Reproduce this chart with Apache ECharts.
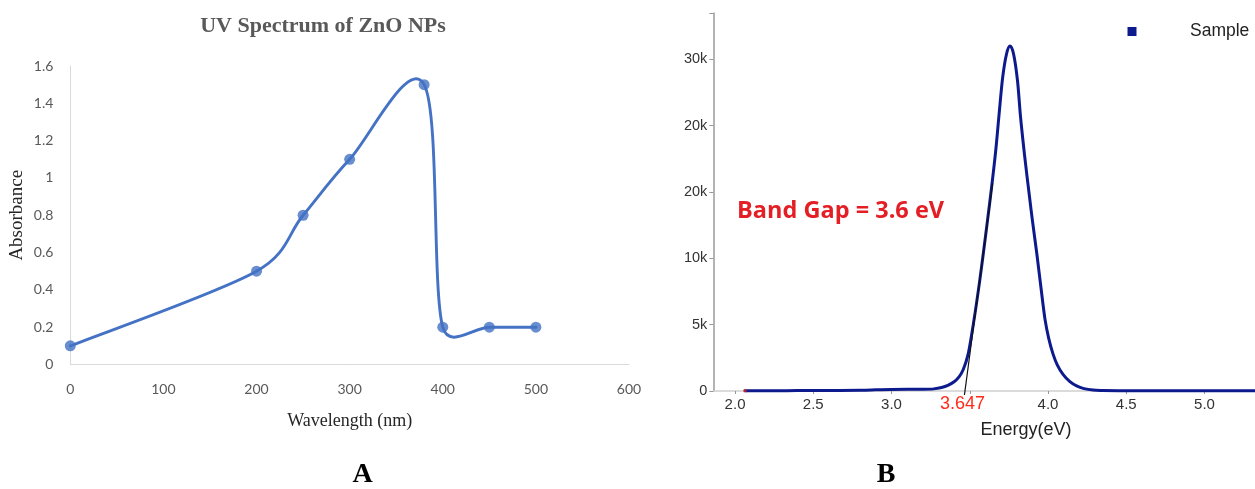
<!DOCTYPE html>
<html><head><meta charset="utf-8">
<script src="https://cdn.jsdelivr.net/npm/echarts@6/dist/echarts.min.js"></script>
<style>html,body{margin:0;padding:0;background:#fff}#c{width:1255px;height:489px}</style>
</head><body><div id="c"></div>
<script>
// ---------- Panel A : UV spectrum ----------
const uvWavelength = [0, 200, 250, 300, 380, 400, 450, 500];
const uvAbsorbance = [0.1, 0.5, 0.8, 1.1, 1.5, 0.2, 0.2, 0.2];
const uvXTickLabels = ['0', '100', '200', '300', '400', '500', '600'];
const uvYTickLabels = ['0', '0.2', '0.4', '0.6', '0.8', '1', '1.2', '1.4', '1.6'];

// ---------- Panel B : band gap ----------
const energyEv = [2.064, 2.2, 2.4, 2.6, 2.8, 2.9, 3.0, 3.1, 3.2, 3.27, 3.32, 3.36, 3.40, 3.43, 3.457, 3.49, 3.527, 3.56, 3.587, 3.615, 3.64, 3.665, 3.687, 3.71, 3.735, 3.757, 3.78, 3.805, 3.825, 3.85, 3.874, 3.90, 3.928, 3.955, 3.981, 4.005, 4.032, 4.06, 4.096, 4.14, 4.183, 4.23, 4.288, 4.35, 4.45, 4.6, 4.8, 5.0, 5.2, 5.33];
const intensity = [20, 25, 30, 40, 60, 90, 120, 130, 130, 160, 260, 420, 700, 1050, 1580, 2800, 5350, 8000, 10400, 13000, 15400, 18000, 20800, 23600, 25400, 26000, 25400, 23400, 20600, 17800, 15400, 12900, 10400, 7800, 5400, 3950, 2800, 1950, 1250, 700, 380, 180, 70, 40, 25, 20, 20, 20, 20, 20];
const energyLabelValues = [2.0, 2.5, 3.0, 4.0, 4.5, 5.0];
const energyTickValues = [2.0, 2.5, 3.0, 3.5, 4.0, 4.5, 5.0];
const intensityTickLabels = ['0', '5k', '10k', '20k', '20k', '30k'];
const tangentEnergy = [3.466, 3.646];
const tangentIntensity = [-300, 15650];
const bandGapText = 'Band Gap = 3.6 eV';
const bandGapTextAt = [2.013, 13565];
const bandGapValueText = '3.647';
const bandGapValueAt = 3.454;

function smoothPath(pts, k) {
  let d = 'M' + pts[0][0] + ',' + pts[0][1];
  for (let i = 0; i < pts.length - 1; i++) {
    const p0 = pts[i - 1] || pts[i], p1 = pts[i], p2 = pts[i + 1], p3 = pts[i + 2] || pts[i + 1];
    const seg = Math.hypot(p2[0] - p1[0], p2[1] - p1[1]);
    let c1 = [(p2[0] - p0[0]) / 6, (p2[1] - p0[1]) / 6];
    let c2 = [(p3[0] - p1[0]) / 6, (p3[1] - p1[1]) / 6];
    const l1 = Math.hypot(c1[0], c1[1]), l2 = Math.hypot(c2[0], c2[1]);
    const lim = seg * k;
    if (l1 > lim) c1 = c1.map(v => v * lim / l1);
    if (l2 > lim) c2 = c2.map(v => v * lim / l2);
    d += ' C' + (p1[0] + c1[0]) + ',' + (p1[1] + c1[1]) + ' ' + (p2[0] - c2[0]) + ',' + (p2[1] - c2[1]) + ' ' + p2[0] + ',' + p2[1];
  }
  return d;
}
function curveRenderer(xs, ys, color, width, k) {
  return function (params, api) {
    if (params.dataIndex !== 0) return null;
    const pts = xs.map((x, i) => api.coord([x, ys[i]]));
    return { type: 'path', shape: { pathData: smoothPath(pts, k) },
      style: { fill: 'none', stroke: color, lineWidth: width, lineJoin: 'round', lineCap: 'round' } };
  };
}

const uvColor = '#4472C4';
const navy = '#0c1a8e';
const chart = echarts.init(document.getElementById('c'));
const option = {
  animation: false,
  backgroundColor: '#fff',
  grid: [
    { left: 70.3, width: 558.7, top: 66, bottom: 124.5 },
    { left: 713.3, right: 0, top: 13.3, bottom: 98 }
  ],
  legend: {
    data: ['Sample'], left: 1127.5, top: 22.5, padding: 0,
    icon: 'rect', itemWidth: 9, itemHeight: 9,
    textStyle: { fontFamily: 'Liberation Sans', fontSize: 17.5, color: '#222', padding: [0, 0, 0, 48.5] }
  },
  xAxis: [
    {
      gridIndex: 0, type: 'value', min: 0, max: 600, interval: 100,
      name: 'Wavelength (nm)', nameLocation: 'middle', nameGap: 48,
      nameTextStyle: { fontFamily: 'Liberation Serif', fontSize: 18, color: '#262626' },
      axisLine: { lineStyle: { color: '#d9d9d9', width: 1 } },
      axisTick: { show: false }, splitLine: { show: false },
      axisLabel: { margin: 18, fontFamily: 'Lato', fontSize: 14, color: '#595959',
        formatter: v => uvXTickLabels[Math.round(v / 100)] }
    },
    {
      gridIndex: 1, type: 'value', min: 1.861, max: 5.323,
      axisLine: { onZero: false, lineStyle: { color: '#cfcfcf', width: 1.5 } },
      axisTick: { show: true, length: 3, customValues: energyTickValues, lineStyle: { color: '#999' } },
      splitLine: { show: false },
      axisLabel: { margin: 6, fontFamily: 'Liberation Sans', fontSize: 15, color: '#333',
        customValues: energyLabelValues, formatter: v => v.toFixed(1) }
    }
  ],
  yAxis: [
    {
      gridIndex: 0, type: 'value', min: 0, max: 1.6, interval: 0.2,
      name: 'Absorbance', nameLocation: 'middle', nameGap: 44, nameRotate: 90,
      nameTextStyle: { fontFamily: 'Liberation Serif', fontSize: 19, color: '#262626' },
      axisLine: { show: true, lineStyle: { color: '#d9d9d9', width: 1 } },
      axisTick: { show: false }, splitLine: { show: false },
      axisLabel: { margin: 17, fontFamily: 'Lato', fontSize: 14, color: '#595959',
        formatter: v => uvYTickLabels[Math.round(v / 0.2)] }
    },
    {
      gridIndex: 1, type: 'value', min: 0, max: 28467, interval: 5000,
      axisLine: { show: true, lineStyle: { color: '#b3b3b3', width: 2 } },
      axisTick: { show: true, length: 4, lineStyle: { color: '#999' } },
      splitLine: { show: false },
      axisLabel: { margin: 6, fontFamily: 'Liberation Sans', fontSize: 14.5, color: '#333',
        formatter: v => (v % 5000 === 0 ? intensityTickLabels[v / 5000] : '') }
    }
  ],
  series: [
    {
      type: 'custom', xAxisIndex: 0, yAxisIndex: 0, z: 2,
      data: uvWavelength.map((x, i) => [x, uvAbsorbance[i]]),
      encode: { x: 0, y: 1 },
      renderItem: curveRenderer(uvWavelength, uvAbsorbance, uvColor, 2.9, 0.5)
    },
    {
      type: 'scatter', xAxisIndex: 0, yAxisIndex: 0, z: 3,
      data: uvWavelength.map((x, i) => [x, uvAbsorbance[i]]),
      symbol: 'circle', symbolSize: 11, itemStyle: { color: uvColor }
    },
    {
      name: 'Sample', type: 'custom', xAxisIndex: 1, yAxisIndex: 1, z: 2,
      data: energyEv.map((x, i) => [x, intensity[i]]),
      encode: { x: 0, y: 1 },
      itemStyle: { color: navy },
      renderItem: curveRenderer(energyEv, intensity, navy, 3, 1)
    },
    {
      type: 'line', xAxisIndex: 1, yAxisIndex: 1, z: 4, clip: false,
      data: tangentEnergy.map((x, i) => [x, tangentIntensity[i]]),
      showSymbol: false, lineStyle: { color: '#111', width: 1.2 }
    },
    {
      type: 'scatter', xAxisIndex: 1, yAxisIndex: 1, z: 5,
      data: [[energyEv[0], intensity[0]]],
      symbol: 'rect', symbolSize: [3, 3], itemStyle: { color: '#e0201a' }
    }
  ]
};
chart.setOption(option);

const px = (g, v) => chart.convertToPixel({ gridIndex: g }, v);
const bandPos = px(1, bandGapTextAt);
const gapPos = px(1, [bandGapValueAt, 0]);
const energyNamePos = px(1, [3.86, 0]);
const aCenter = px(0, [314, 0]);
function txt(x, y, text, font, fill, align, rot) {
  return { type: 'text', x: x, y: y, rotation: rot || 0, z: 10,
    style: { text: text, font: font, fill: fill, align: align || 'center', textAlign: align || 'center',
      verticalAlign: 'middle', textVerticalAlign: 'middle' } };
}
chart.setOption({
  graphic: [
    txt(323, 26, 'UV Spectrum of ZnO NPs', 'bold 22px "Liberation Serif"', '#595959'),
    txt(aCenter[0] + 0, 475, 'A', 'bold 28px "Liberation Serif"', '#000'),
    txt(886, 475, 'B', 'bold 28px "Liberation Serif"', '#000'),
    txt(bandPos[0], bandPos[1], bandGapText, 'bold 23.5px "Open Sans"', '#e31e24', 'left'),
    txt(gapPos[0], gapPos[1] + 13, bandGapValueText, '18px "Liberation Sans"', '#ff2a1a'),
    txt(energyNamePos[0], energyNamePos[1] + 39, 'Energy(eV)', '18px "Liberation Sans"', '#222')
  ]
});
</script></body></html>
